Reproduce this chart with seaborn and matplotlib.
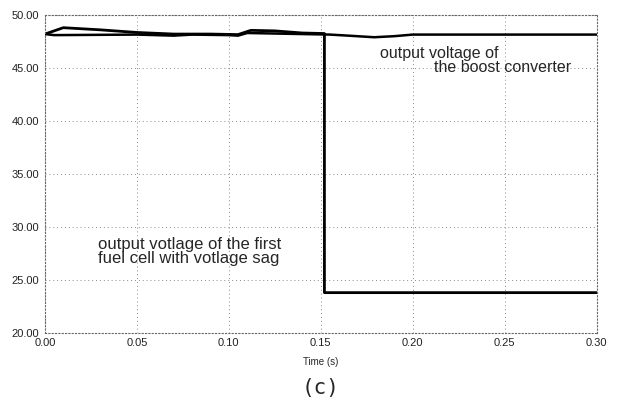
import matplotlib
matplotlib.use("Agg")
import matplotlib.pyplot as plt
import seaborn as sns
import pandas as pd

# Data
fc_time = [0.0, 0.01, 0.03, 0.05, 0.07, 0.09, 0.105, 0.112, 0.125, 0.14, 0.152, 0.152, 0.30]
fc_volt = [48.2, 48.8, 48.6, 48.35, 48.2, 48.2, 48.15, 48.55, 48.5, 48.3, 48.25, 23.8, 23.8]

bc_time = [0.0, 0.005, 0.05, 0.07, 0.08, 0.10, 0.105, 0.11, 0.14, 0.155, 0.165, 0.179, 0.19, 0.20, 0.30]
bc_volt = [48.2, 48.1, 48.15, 48.05, 48.15, 48.1, 48.05, 48.3, 48.2, 48.15, 48.05, 47.9, 48.0, 48.15, 48.15]

x_ticks = [0.00, 0.05, 0.10, 0.15, 0.20, 0.25, 0.30]
y_ticks = [20, 25, 30, 35, 40, 45, 50]

fc = pd.DataFrame({"t": fc_time, "v": fc_volt, "series": "fuel cell"})
bc = pd.DataFrame({"t": bc_time, "v": bc_volt, "series": "boost"})

sns.set_style("white")
plt.rcParams["font.family"] = ["Liberation Sans", "DejaVu Sans"]

fig = plt.figure(figsize=(6.24, 4.05), dpi=100)
ax = fig.add_axes([0.072, 0.178, 0.884, 0.785])

sns.lineplot(data=bc, x="t", y="v", sort=False, color="black", lw=1.8, ax=ax, estimator=None)
sns.lineplot(data=fc, x="t", y="v", sort=False, color="black", lw=2.0, ax=ax, estimator=None)

ax.set_xlim(0, 0.30)
ax.set_ylim(20, 50)
ax.set_xticks(x_ticks)
ax.set_yticks(y_ticks)
ax.set_xticklabels([f"{v:.2f}" for v in x_ticks], fontsize=8, color="#222222")
ax.set_yticklabels([f"{v:.2f}" for v in y_ticks], fontsize=8, color="#222222")
ax.tick_params(length=0, pad=4)
ax.grid(True, color="#888888", linestyle=(0, (1, 3)), lw=0.7)
for s in ax.spines.values():
    s.set_linestyle((0, (1, 2)))
    s.set_color("#666666")
    s.set_linewidth(0.8)

ax.set_xlabel("Time (s)", fontsize=7, labelpad=6)
ax.set_ylabel("")

ax.text(0.182, 45.7, "output voltage of\n            the boost converter", fontsize=11.5, ha="left", va="center", linespacing=0.95)
ax.text(0.029, 27.7, "output votlage of the first\nfuel cell with votlage sag", fontsize=12, ha="left", va="center", linespacing=0.92)

fig.text(0.513, 0.042, "(c)", fontsize=15, ha="center", va="center", family=["DejaVu Sans Mono", "DejaVu Sans"])

fig.savefig("out.png", dpi=100)
